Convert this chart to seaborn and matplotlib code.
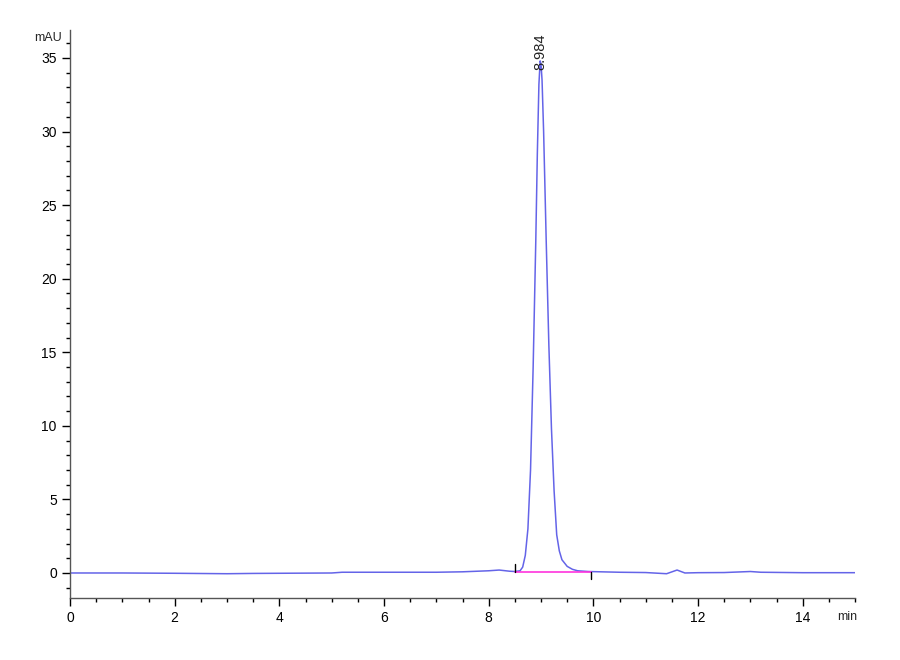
import numpy as np
import pandas as pd
import seaborn as sns
import matplotlib.pyplot as plt
from matplotlib.ticker import MultipleLocator

# chromatogram (time in min, signal in mAU)
time_min = [0.0, 1.0, 2.0, 3.0, 3.5, 4.0, 5.0, 5.2, 6.0, 7.0, 7.5, 8.0, 8.2, 8.4,
            8.5, 8.6, 8.65, 8.7, 8.75, 8.8, 8.85, 8.9, 8.93, 8.96, 8.984, 9.0, 9.02, 9.05,
            9.1, 9.15, 9.2, 9.25, 9.3, 9.35, 9.4, 9.5, 9.6, 9.7, 9.9, 10.5,
            11.0, 11.4, 11.6, 11.75, 12.0, 12.5, 13.0, 13.2, 14.0, 15.0]
signal_mau = [0.0, 0.0, -0.02, -0.05, -0.03, -0.02, 0.0, 0.05, 0.05, 0.05, 0.08, 0.15, 0.2, 0.12,
              0.1, 0.15, 0.4, 1.2, 3.0, 7.0, 14.0, 22.5, 28.5, 33.2, 34.8, 34.6, 33.5, 30.0,
              22.5, 15.5, 9.8, 5.6, 2.6, 1.5, 0.9, 0.45, 0.25, 0.15, 0.1, 0.05,
              0.03, -0.05, 0.2, 0.0, 0.02, 0.03, 0.1, 0.05, 0.02, 0.02]

peak_rt = 8.984
peak_height = 34.8
base_start, base_end = 8.5, 9.95
base_level = 0.1

df = pd.DataFrame({'time': time_min, 'mAU': signal_mau})

sns.set_style('white')
plt.rcParams['font.family'] = ['Liberation Sans', 'DejaVu Sans']

fig = plt.figure(figsize=(9, 6.6), dpi=100)
ax = fig.add_axes([70 / 900, 1 - 598 / 660, 785 / 900, 568 / 660])

sns.lineplot(data=df, x='time', y='mAU', ax=ax, color='#6464e8', linewidth=1.1)

# integration baseline and its end markers
ax.plot([base_start, base_end], [base_level, base_level], color='#ff33dd', linewidth=1.2)
ax.plot([base_start, base_start], [base_level, base_level + 0.5], color='black', linewidth=1)
ax.plot([base_end, base_end], [base_level, base_level - 0.5], color='black', linewidth=1)

ax.text(peak_rt, peak_height - 0.6, f'{peak_rt:.3f}', rotation=90, ha='center', va='bottom',
        fontsize=10.5, color='#222222')

ax.set_xlim(0, 15)
ax.set_ylim(-1.7, 36.9)
ax.xaxis.set_major_locator(MultipleLocator(2))
ax.xaxis.set_minor_locator(MultipleLocator(0.5))
ax.yaxis.set_major_locator(MultipleLocator(5))
ax.yaxis.set_minor_locator(MultipleLocator(1))
ax.tick_params(which='major', direction='out', length=6, width=1, colors='black', labelsize=10)
ax.tick_params(which='minor', direction='out', length=3, width=1, colors='black')
ax.tick_params(axis='x', bottom=True, which='both')
ax.tick_params(axis='y', left=True, which='both')

for side in ['top', 'right']:
    ax.spines[side].set_visible(False)
for side in ['left', 'bottom']:
    ax.spines[side].set_color('#555555')
    ax.spines[side].set_linewidth(1)

ax.set_xlabel('')
ax.set_ylabel('')
fig.text(48 / 900, 1 - 38 / 660, 'mAU', ha='center', va='center', fontsize=9)
fig.text(847 / 900, 1 - 617 / 660, 'min', ha='center', va='center', fontsize=9)

fig.savefig('out.png', dpi=100)
